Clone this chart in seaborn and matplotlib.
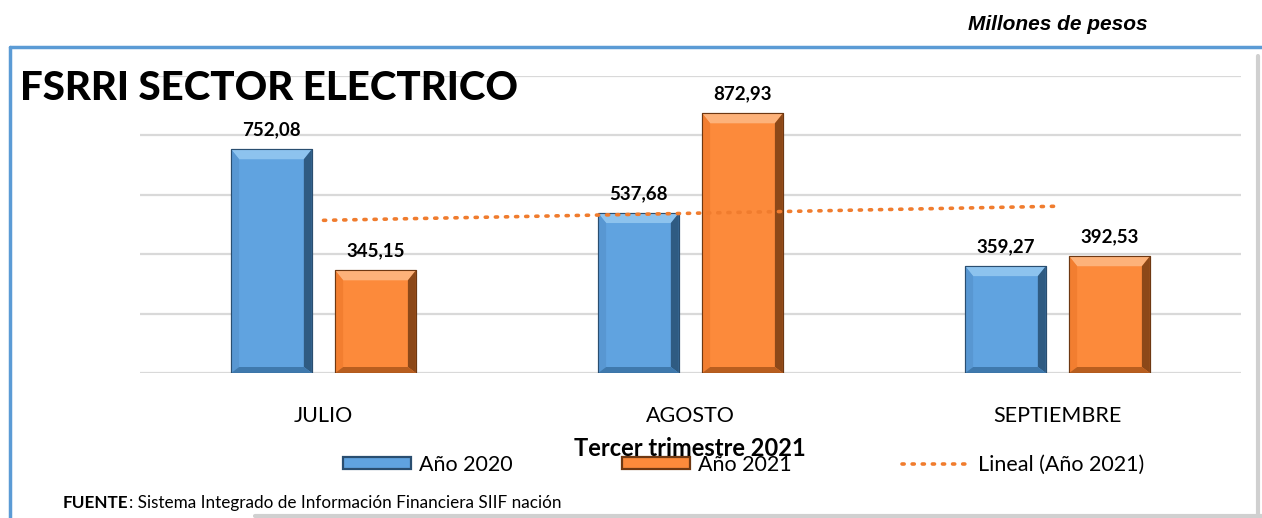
import numpy as np
import pandas as pd
import matplotlib
matplotlib.use("Agg")
import matplotlib.pyplot as plt
from matplotlib.patches import Patch, Polygon
from matplotlib.lines import Line2D
import seaborn as sns

# ---- data ----
months = ["JULIO", "AGOSTO", "SEPTIEMBRE"]
series_names = ["Año 2020", "Año 2021"]
values_2020 = [752.08, 537.68, 359.27]
values_2021 = [345.15, 872.93, 392.53]
value_labels_2020 = ["752,08", "537,68", "359,27"]
value_labels_2021 = ["345,15", "872,93", "392,53"]
trend_label = "Lineal (Año 2021)"

df = pd.DataFrame({
    "mes": months * 2,
    "serie": [series_names[0]] * 3 + [series_names[1]] * 3,
    "valor": values_2020 + values_2021,
})

sns.set_theme(style="white")
plt.rcParams["font.family"] = ["Lato", "DejaVu Sans"]
plt.rcParams["text.color"] = "black"
plt.rcParams["xtick.color"] = "black"

W, H = 1262, 518
fig = plt.figure(figsize=(W / 100, H / 100), dpi=100)
fig.patch.set_facecolor("white")

AX_W_PX, AX_H_PX = 1101, 297.5
ax = fig.add_axes([140 / W, (H - 373) / H, AX_W_PX / W, AX_H_PX / H])

blue = "#60a3e0"
orange = "#fc8a3b"
shades = {
    blue: dict(top="#8dc3ee", left="#5897d2", right="#2f5b82", bottom="#3f79ad", edge="#2a4e70"),
    orange: dict(top="#fdb27a", left="#f27e30", right="#8c4818", bottom="#b85e1f", edge="#6e3812"),
}

sns.barplot(data=df, x="mes", y="valor", hue="serie", order=months,
            hue_order=series_names, palette=[blue, orange], saturation=1,
            width=0.567, gap=0.224, ax=ax, legend=False, zorder=3)

ax.set_ylim(0, 1000)
ax.set_xlim(-0.5, 2.5)

# bevel effect on bars
dx = 8 * 3 / AX_W_PX
dy_top = 10 * 1000 / AX_H_PX
dy_bot = 6 * 1000 / AX_H_PX
for bar_container, base in zip(ax.containers, [blue, orange]):
    sh = shades[base]
    for b in bar_container:
        x0, w, h = b.get_x(), b.get_width(), b.get_height()
        x1 = x0 + w
        b.set_edgecolor(sh["edge"])
        b.set_linewidth(0.8)
        faces = [
            ([(x0, h), (x1, h), (x1 - dx, h - dy_top), (x0 + dx, h - dy_top)], sh["top"]),
            ([(x0, 0), (x0, h), (x0 + dx, h - dy_top), (x0 + dx, dy_bot)], sh["left"]),
            ([(x1, 0), (x1, h), (x1 - dx, h - dy_top), (x1 - dx, dy_bot)], sh["right"]),
            ([(x0, 0), (x1, 0), (x1 - dx, dy_bot), (x0 + dx, dy_bot)], sh["bottom"]),
        ]
        for pts, col in faces:
            ax.add_patch(Polygon(pts, closed=True, facecolor=col, edgecolor="none",
                                 zorder=3.5))
        ax.add_patch(Polygon([(x0, 0), (x0, h), (x1, h), (x1, 0)], closed=True,
                             facecolor="none", edgecolor=sh["edge"], linewidth=0.8,
                             zorder=3.6))

# value labels
for bar_container, labels in zip(ax.containers, [value_labels_2020, value_labels_2021]):
    for b, lab in zip(bar_container, labels):
        ax.annotate(lab, (b.get_x() + b.get_width() / 2, b.get_height()),
                    xytext=(0, 8), textcoords="offset points",
                    ha="center", va="bottom", fontsize=13.5, fontweight="bold",
                    color="black", zorder=5)

# linear trend of 2021
xs = np.arange(len(months))
coef = np.polyfit(xs, values_2021, 1)
trend_style = dict(linestyle=(0, (0.6, 2.2)), color="#f07c2e", linewidth=2.6,
                   dash_capstyle="round")
ax.plot(xs, np.polyval(coef, xs), zorder=4, **trend_style)

ax.set_yticks([0, 200, 400, 600, 800, 1000])
ax.set_yticklabels([])
ax.yaxis.grid(True, color="#d9d9d9", linewidth=1.6)
ax.set_axisbelow(True)
for s in ax.spines.values():
    s.set_visible(False)
ax.tick_params(axis="y", length=0)
ax.tick_params(axis="x", length=0, pad=24, labelsize=15.5, labelcolor="black")
ax.set_xlabel("")
ax.set_ylabel("")

# x axis title
fig.text(690 / W, 1 - 448 / H, "Tercer trimestre 2021", ha="center", va="center",
         fontsize=17, fontweight="bold", color="black", zorder=10)

# title
fig.text(20 / W, 1 - 88 / H, "FSRRI SECTOR ELECTRICO", ha="left", va="center",
         fontsize=29, fontweight="black", color="black")

# units
fig.text(1148 / W, 1 - 25 / H, "Millones de pesos", ha="right", va="center",
         fontsize=15, fontweight="bold", style="italic", family="Liberation Sans",
         color="black")

# legend
handles = [Patch(facecolor=blue, edgecolor=shades[blue]["edge"], linewidth=1.6),
           Patch(facecolor=orange, edgecolor=shades[orange]["edge"], linewidth=1.6),
           Line2D([0], [0], **trend_style)]
fig.legend(handles, series_names + [trend_label], ncol=3, frameon=False,
           loc="center left", bbox_to_anchor=(343 / W, 1 - 465 / H),
           fontsize=15.5, handlelength=3.16, handleheight=0.5, handletextpad=0.37,
           columnspacing=5.1, borderpad=0, borderaxespad=0)

# source note
t1 = fig.text(63 / W, 1 - 503 / H, "FUENTE", ha="left", va="center",
              fontsize=12.3, fontweight="bold", color="black")
ax.annotate(": Sistema Integrado de Información Financiera SIIF nación",
            xy=(1, 0.5), xycoords=t1, ha="left", va="center", fontsize=12.3,
            color="black", annotation_clip=False)

# frame decorations
fig.add_artist(Line2D([10 / W, 1.0], [1 - 47 / H, 1 - 47 / H], color="#5b9bd5", linewidth=2.5))
fig.add_artist(Line2D([10 / W, 10 / W], [1 - 47 / H, 0], color="#5b9bd5", linewidth=2.5))
fig.add_artist(Line2D([1258 / W, 1258 / W], [1 - 56 / H, 0], color="#d0d0d0", linewidth=3))
fig.add_artist(Line2D([255 / W, 1.0], [2 / H, 2 / H], color="#d0d0d0", linewidth=3))

fig.savefig("out.png", dpi=100, facecolor="white")
